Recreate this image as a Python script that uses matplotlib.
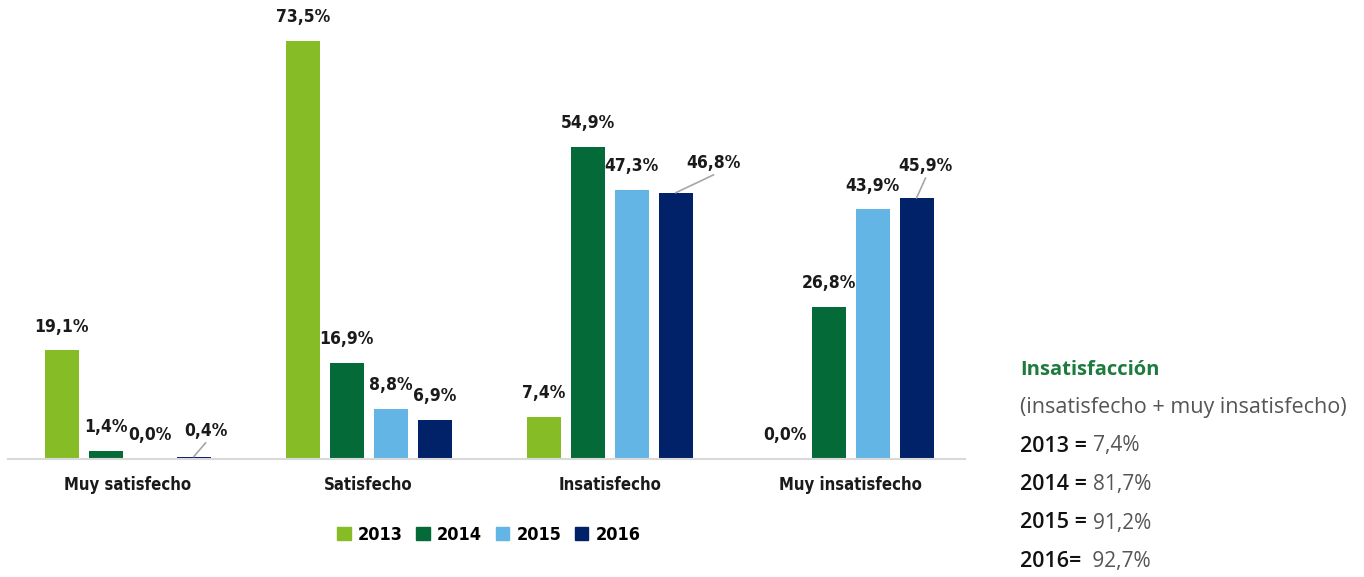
import numpy as np
import matplotlib
matplotlib.use("Agg")
import matplotlib.pyplot as plt
from matplotlib.patches import Patch
from matplotlib import font_manager

categories = ["Muy satisfecho", "Satisfecho", "Insatisfecho", "Muy insatisfecho"]
years = ["2013", "2014", "2015", "2016"]
v2013 = [19.1, 73.5, 7.4, 0.0]
v2014 = [1.4, 16.9, 54.9, 26.8]
v2015 = [0.0, 8.8, 47.3, 43.9]
v2016 = [0.4, 6.9, 46.8, 45.9]
series = [v2013, v2014, v2015, v2016]
colors = ["#86BC25", "#046A38", "#62B5E5", "#012169"]

side_title = "Insatisfacción"
side_sub = "(insatisfecho + muy insatisfecho)"
side_years = ["2013 = ", "2014 = ", "2015 = ", "2016= "]
side_vals = ["7,4%", "81,7%", "91,2%", " 92,7%"]

fonts = font_manager.fontManager.ttflist
names = {f.name for f in fonts}
cond = [f for f in fonts if f.name == "DejaVu Sans" and f.stretch == "condensed"]
if "Liberation Sans Narrow" in names:
    lab_font = dict(family="Liberation Sans Narrow")
elif cond:
    lab_font = dict(family="DejaVu Sans", stretch="condensed")
else:
    lab_font = dict(family="Liberation Sans")
side_font = "Open Sans" if "Open Sans" in names else "DejaVu Sans"


def fmt(v):
    return f"{v:.1f}".replace(".", ",") + "%"


fig = plt.figure(figsize=(13.64, 5.77), dpi=100)
ax = fig.add_axes([0.006, 0.2045, 0.7015, 0.7955])

x = np.arange(len(categories))
pitch, width = 0.1826, 0.141
offsets = (np.arange(4) - 1.5) * pitch

for i, (vals, col) in enumerate(zip(series, colors)):
    ax.bar(x + offsets[i], vals, width, color=col, zorder=2)

# value labels; a few use leader lines (offsets in pixels)
leader = {(0, 3): (12, 26), (2, 3): (38, 30), (3, 3): (9, 32)}
for i, vals in enumerate(series):
    for j, v in enumerate(vals):
        xp = x[j] + offsets[i]
        if (j, i) in leader:
            dx, dy = leader[(j, i)]
            ax.annotate("", xy=(xp, v), xytext=(dx * 0.72, (dy - 12) * 0.72),
                        textcoords="offset points",
                        arrowprops=dict(arrowstyle="-", color="#a6a6a6", lw=1.2,
                                        shrinkA=0, shrinkB=0))
            ax.annotate(fmt(v), xy=(xp, v), xytext=(dx * 0.72, dy * 0.72),
                        textcoords="offset points", ha="center", va="center",
                        fontsize=12.5, fontweight="bold", color="#1a1a1a", **lab_font)
        else:
            ax.annotate(fmt(v), xy=(xp, v), xytext=(0, 17),
                        textcoords="offset points", ha="center", va="center",
                        fontsize=12.5, fontweight="bold", color="#1a1a1a", **lab_font)

ax.set_xlim(-0.496, 3.475)
ax.set_ylim(0, 80.7)
for s in ["top", "right", "left"]:
    ax.spines[s].set_visible(False)
ax.spines["bottom"].set_color("#d9d9d9")
ax.spines["bottom"].set_linewidth(1.5)
ax.set_yticks([])
ax.set_xticks(x)
ax.set_xticklabels(categories, fontsize=12, fontweight="bold", color="#1a1a1a", **lab_font)
ax.tick_params(axis="x", length=0, pad=12)

handles = [Patch(color=c) for c in colors]
fig.legend(handles, years, loc="center", bbox_to_anchor=(489 / 1364, 1 - 535 / 577),
           ncol=4, frameon=False, handlelength=0.75, handleheight=0.75,
           handletextpad=0.4, columnspacing=0.75,
           prop=dict(weight="bold", size=13, **lab_font))

# side text block
x0 = 1020 / 1364
fig.text(x0, 1 - 370 / 577, side_title, color="#1E7B3E", fontsize=14.5,
         fontweight="bold", family=side_font, va="center")
fig.text(x0, 1 - 408 / 577, side_sub, color="#555555", fontsize=15.5,
         family=side_font, va="center")
for k, (yl, vl) in enumerate(zip(side_years, side_vals)):
    yy = 1 - (446 + k * 38.5) / 577
    t = fig.text(x0, yy, yl, color="#111111", fontsize=15.5, family=side_font,
                 fontweight="semibold", va="center")
    fig.canvas.draw()
    bb = t.get_window_extent()
    fig.text(bb.x1 / fig.bbox.width, yy, vl, color="#555555", fontsize=15,
             family=side_font, va="center")

fig.savefig("out.png", dpi=100)
